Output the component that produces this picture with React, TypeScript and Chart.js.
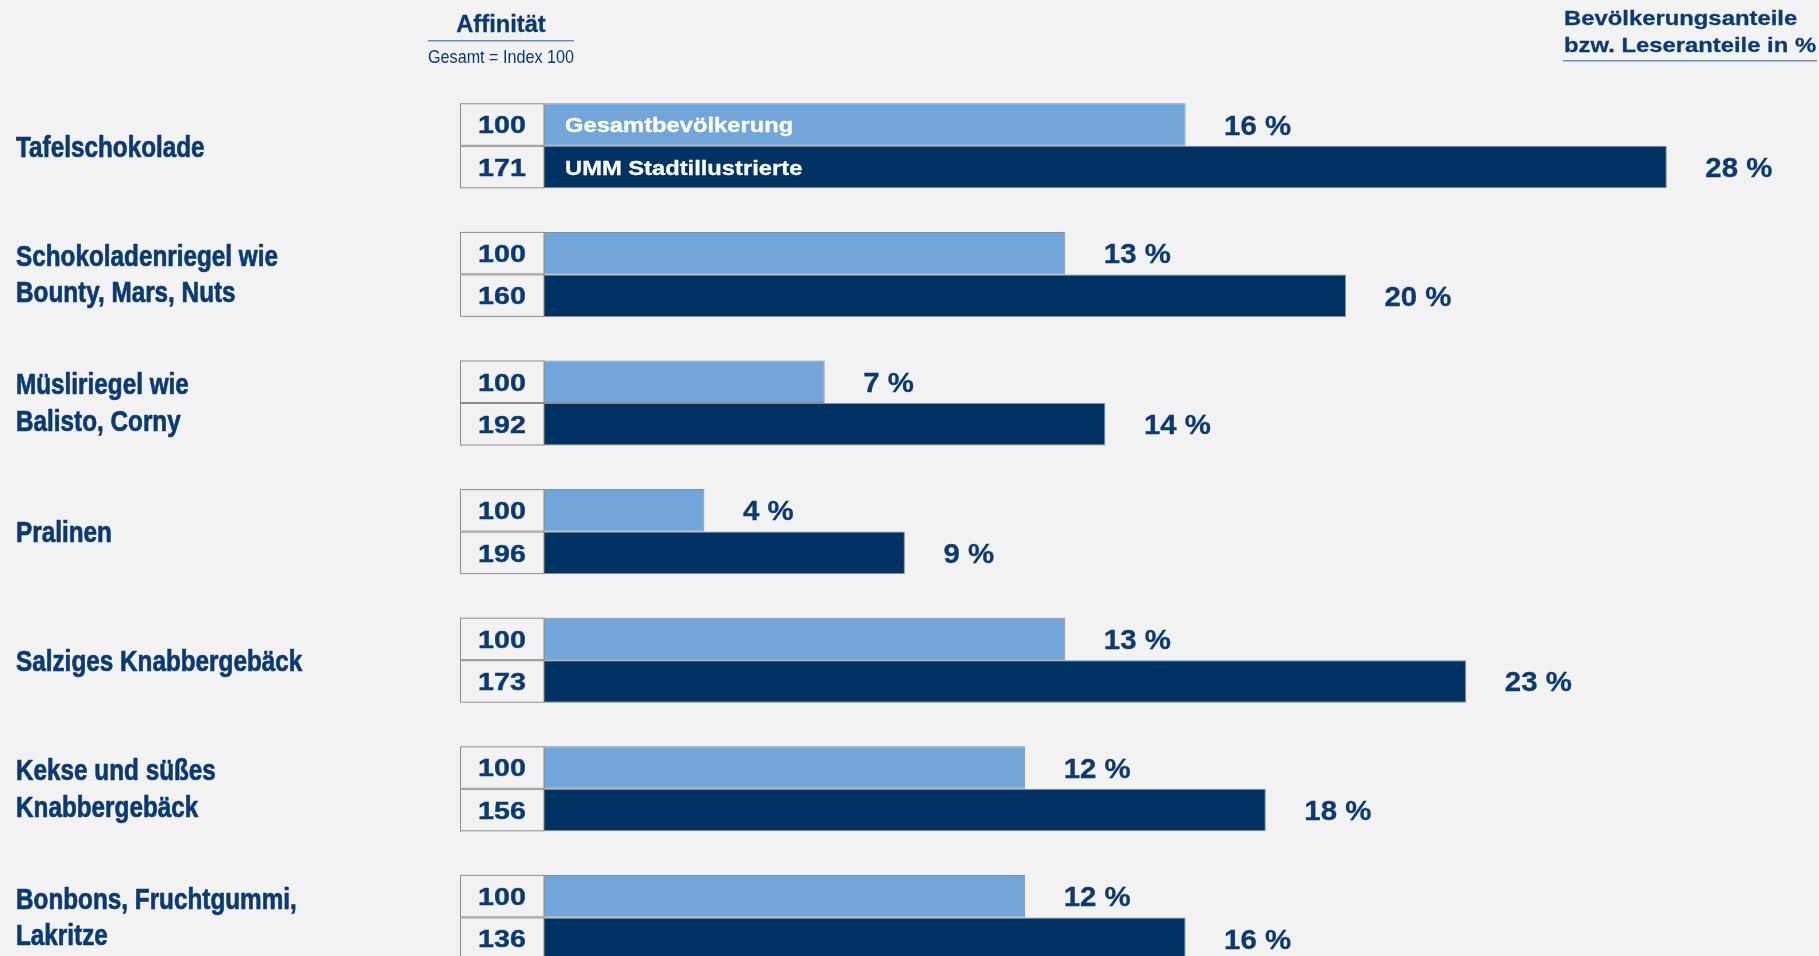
import React, { useEffect, useRef } from "react";
import { Chart, registerables } from "chart.js";

Chart.register(...registerables);

const categories: string[][] = [
  ["Tafelschokolade"],
  ["Schokoladenriegel wie", "Bounty, Mars, Nuts"],
  ["Müsliriegel wie", "Balisto, Corny"],
  ["Pralinen"],
  ["Salziges Knabbergebäck"],
  ["Kekse und süßes", "Knabbergebäck"],
  ["Bonbons, Fruchtgummi,", "Lakritze"],
];
const seriesNames = ["Gesamtbevölkerung", "UMM Stadtillustrierte"];
const gesamtShare = [16, 13, 7, 4, 13, 12, 12];
const ummShare = [28, 20, 14, 9, 23, 18, 16];
const gesamtIndex = [100, 100, 100, 100, 100, 100, 100];
const ummIndex = [171, 160, 192, 196, 173, 156, 136];
const headerLeft = ["Affinität", "Gesamt = Index 100"];
const headerRight = ["Bevölkerungsanteile", "bzw. Leseranteile in %"];

const BG = "#f2f2f2";
const NAVY = "#0b3a73";
const LIGHT = "#72a6d8";
const DARK = "#003263";
const BORDER = "#8c8c8c";
const RULE = "#6f8fb2";
const W = 1819;
const H = 990;
const SANS = "'Liberation Sans', Arial, sans-serif";

function drawText(
  ctx: CanvasRenderingContext2D,
  text: string,
  x: number,
  y: number,
  font: string,
  color: string,
  align: CanvasTextAlign,
  sx: number,
  stroke = 0
) {
  ctx.save();
  ctx.font = font;
  ctx.fillStyle = color;
  ctx.textAlign = align;
  ctx.textBaseline = "alphabetic";
  ctx.translate(x, y);
  ctx.scale(sx, 1);
  ctx.fillText(text, 0, 0);
  if (stroke > 0) {
    ctx.strokeStyle = color;
    ctx.lineWidth = stroke;
    ctx.lineJoin = "round";
    ctx.strokeText(text, 0, 0);
  }
  ctx.restore();
}

const overlay = {
  id: "overlay",
  afterDatasetsDraw(chart: any) {
    const ctx: CanvasRenderingContext2D = chart.ctx;
    const indexSets = [gesamtIndex, ummIndex];
    const boxLeft = 460;
    [0, 1].forEach((di) => {
      const meta = chart.getDatasetMeta(di);
      meta.data.forEach((bar: any, i: number) => {
        const { x, y, base, height } = bar.getProps(["x", "y", "base", "height"], true);
        const top = y - height / 2;
        ctx.save();
        ctx.fillStyle = BG;
        ctx.fillRect(boxLeft, top, base - boxLeft, height);
        ctx.strokeStyle = BORDER;
        ctx.lineWidth = 1;
        ctx.strokeRect(boxLeft + 0.5, top + 0.5, base - boxLeft - 0.5, height - 1);
        ctx.restore();
        drawText(ctx, String(indexSets[di][i]), (boxLeft + base) / 2, y + 8.8,
          `bold 24.5px ${SANS}`, NAVY, "center", 1.17, 0.4);
        const v = chart.data.datasets[di].data[i];
        drawText(ctx, `${v} %`, x + 38.5, y + 10, `bold 28px ${SANS}`, NAVY, "left", 1.05, 0.3);
        if (i === 0) {
          drawText(ctx, seriesNames[di], base + 21, y + 7.5, `bold 21px ${SANS}`, "#ffffff", "left", 1.13, 0.3);
        }
      });
    });
    // category labels, positioned by the category scale
    const yScale = chart.scales.y;
    (chart.data.labels as string[][]).forEach((lines, i) => {
      const py = yScale.getPixelForValue(i);
      const n = lines.length;
      lines.forEach((line, j) => {
        const base = py + (j - (n - 1) / 2) * 36.7 + 10.7 - (n > 1 ? 1.2 : 0);
        drawText(ctx, line, 16, base, `bold 30px ${SANS}`, NAVY, "left", 0.81, 0.7);
      });
    });
  },
  afterDraw(chart: any) {
    const ctx: CanvasRenderingContext2D = chart.ctx;
    drawText(ctx, headerLeft[0], 501, 32.3, `bold 23px ${SANS}`, NAVY, "center", 1.03, 0.3);
    ctx.save();
    ctx.strokeStyle = RULE;
    ctx.lineWidth = 1.5;
    ctx.beginPath();
    ctx.moveTo(428, 40.7);
    ctx.lineTo(574, 40.7);
    ctx.stroke();
    ctx.restore();
    drawText(ctx, headerLeft[1], 501, 63.3, `19px ${SANS}`, NAVY, "center", 0.85);
    drawText(ctx, headerRight[0], 1564, 25, `bold 21px ${SANS}`, NAVY, "left", 1.135, 0.3);
    drawText(ctx, headerRight[1], 1564, 51.7, `bold 21px ${SANS}`, NAVY, "left", 1.135, 0.3);
    ctx.save();
    ctx.strokeStyle = RULE;
    ctx.lineWidth = 1.5;
    ctx.beginPath();
    ctx.moveTo(1563, 60.7);
    ctx.lineTo(1817, 60.7);
    ctx.stroke();
    ctx.restore();
  },
};

export default function App() {
  const ref = useRef<HTMLCanvasElement | null>(null);
  useEffect(() => {
    document.body.style.margin = "0";
    document.body.style.background = BG;
    if (!ref.current) return;
    const chart = new Chart(ref.current, {
      type: "bar",
      data: {
        labels: categories,
        datasets: [
          {
            label: seriesNames[0],
            data: gesamtShare,
            backgroundColor: LIGHT,
            borderColor: BORDER,
            borderWidth: 1,
            barPercentage: 1,
            categoryPercentage: 0.661,
          },
          {
            label: seriesNames[1],
            data: ummShare,
            backgroundColor: DARK,
            borderColor: BORDER,
            borderWidth: 1,
            barPercentage: 1,
            categoryPercentage: 0.661,
          },
        ],
      },
      options: {
        indexAxis: "y",
        responsive: false,
        animation: false,
        devicePixelRatio: 1,
        layout: { padding: { left: 544, top: 81.5, right: 72, bottom: H - 981.7 } },
        plugins: { legend: { display: false }, tooltip: { enabled: false } },
        scales: {
          x: { display: false, min: 0, max: 30 },
          y: { display: false },
        },
      },
      plugins: [overlay],
    } as any);
    return () => chart.destroy();
  }, []);
  return (
    <div style={{ width: W, height: 956, overflow: "hidden", background: BG }}>
      <canvas ref={ref} width={W} height={H} style={{ display: "block" }} />
    </div>
  );
}
